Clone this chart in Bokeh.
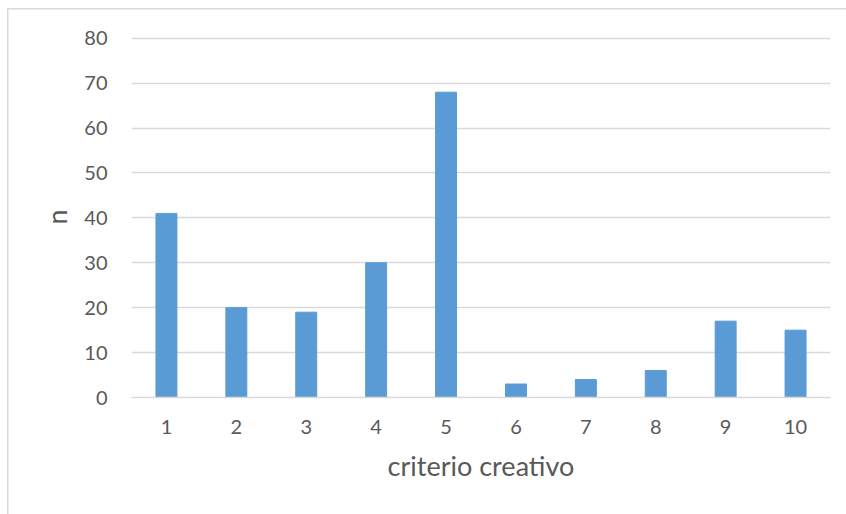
from bokeh.plotting import figure
from bokeh.models import Range1d, InlineStyleSheet
from bokeh.embed import file_html
from bokeh.resources import INLINE

categories = ["1", "2", "3", "4", "5", "6", "7", "8", "9", "10"]
values = [41, 20, 19, 30, 68, 3, 4, 6, 17, 15]
y_ticks = [0, 10, 20, 30, 40, 50, 60, 70, 80]

FONT = "Lato"
TXT = "#595959"
GRID = "#d9d9d9"

p = figure(width=846, height=514, x_range=categories, y_range=Range1d(0, 80.4),
           output_backend="svg", toolbar_location=None,
           min_border_left=131, min_border_right=16, min_border_top=36, min_border_bottom=117)
p.x_range.range_padding = 0
p.outline_line_color = None
p.background_fill_color = "white"
p.border_fill_color = None
p.stylesheets = [InlineStyleSheet(css=":host { background: white; box-shadow: inset 7px 8px 0 0 white, inset 8.5px 9.5px 0 0 #d9d9d9; }")]

p.vbar(x=categories, top=values, width=0.3, color="#5B9BD5")

p.xgrid.grid_line_color = None
p.ygrid.grid_line_color = GRID
p.ygrid.grid_line_width = 1.5
p.yaxis.ticker = y_ticks

for ax in (p.xaxis[0], p.yaxis[0]):
    ax.major_tick_line_color = None
    ax.minor_tick_line_color = None
    ax.major_label_text_font = FONT
    ax.major_label_text_color = TXT
    ax.major_label_text_font_size = "20px"
    ax.axis_label_text_font = FONT
    ax.axis_label_text_color = TXT
    ax.axis_label_text_font_style = "normal"
    ax.axis_label_text_font_size = "27px"

p.yaxis.axis_line_color = None
p.xaxis.axis_line_color = GRID
p.xaxis.axis_line_width = 1.5
p.xaxis.axis_label = "criterio creativo"
p.yaxis.axis_label = "n"
p.xaxis.major_label_standoff = 16
p.yaxis.major_label_standoff = 18
p.xaxis.axis_label_standoff = 12
p.yaxis.axis_label_standoff = 8

open("out.html", "w").write(file_html(p, INLINE))
